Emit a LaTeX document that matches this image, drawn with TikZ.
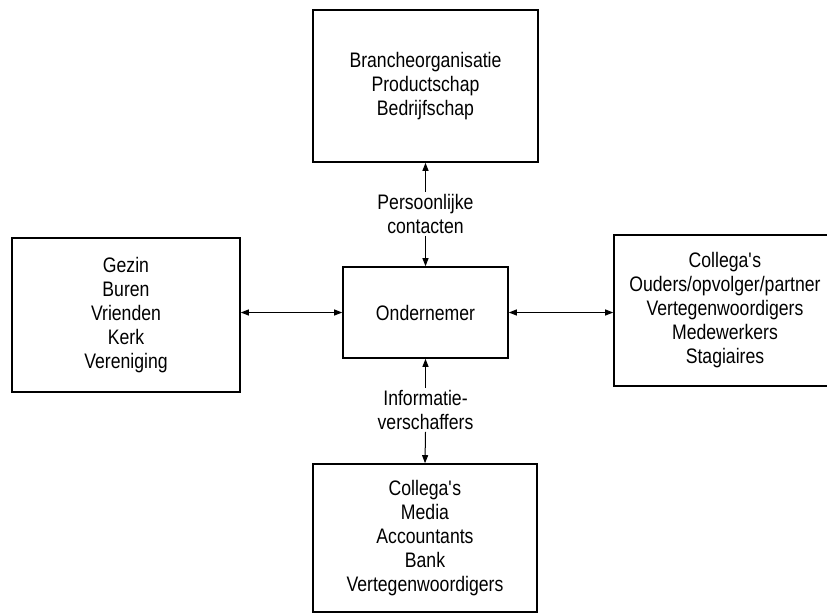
\documentclass[tikz,border=0pt]{standalone}
\usepackage{fontspec}
\setmainfont[FakeStretch=0.84]{Liberation Sans}
\usetikzlibrary{arrows.meta}
\tikzset{
  box/.style={draw, line width=1.6pt, align=center, inner sep=0pt,
    font=\fontsize{21}{24}\selectfont},
  lbl/.style={align=center, inner sep=2pt, font=\fontsize{21}{24}\selectfont},
  arr/.style={line width=1pt, -{Triangle[length=8pt,width=6pt]}},
  darr/.style={line width=1pt, {Triangle[length=8pt,width=6pt]}-{Triangle[length=8pt,width=6pt]}}
}
\begin{document}
\begin{tikzpicture}[x=1pt,y=-1pt]
\useasboundingbox (0,0) rectangle (827,614);
\node[box, minimum width=225pt, minimum height=152pt] (top) at (425.5,86)
  {Brancheorganisatie\\Productschap\\Bedrijfschap};
\node[box, minimum width=165pt, minimum height=91pt] (ctr) at (425.5,312.5)
  {Ondernemer};
\node[box, minimum width=228pt, minimum height=154pt] (lft) at (126,315)
  {Gezin\\Buren\\Vrienden\\Kerk\\Vereniging};
\node[box, minimum width=222pt, minimum height=151pt] (rgt) at (725,310.5)
  {Collega\textquotesingle s\\Ouders/opvolger/partner\\Vertegenwoordigers\\Medewerkers\\Stagiaires};
\node[box, minimum width=224pt, minimum height=148pt] (bot) at (425,538)
  {Collega\textquotesingle s\\Media\\Accountants\\Bank\\Vertegenwoordigers};
\node[lbl] (pc) at (425.5,214) {Persoonlijke\\contacten};
\node[lbl] (iv) at (425.5,410) {Informatie-\\verschaffers};
\draw[arr] (pc.north) -- (top.south);
\draw[arr] (pc.south) -- (ctr.north);
\draw[arr] (iv.north) -- (ctr.south);
\draw[arr] (iv.south) -- (bot.north);
\draw[darr] (lft.east |- ctr.west) -- (ctr.west);
\draw[darr] (ctr.east) -- (rgt.west |- ctr.east);
\end{tikzpicture}
\end{document}
